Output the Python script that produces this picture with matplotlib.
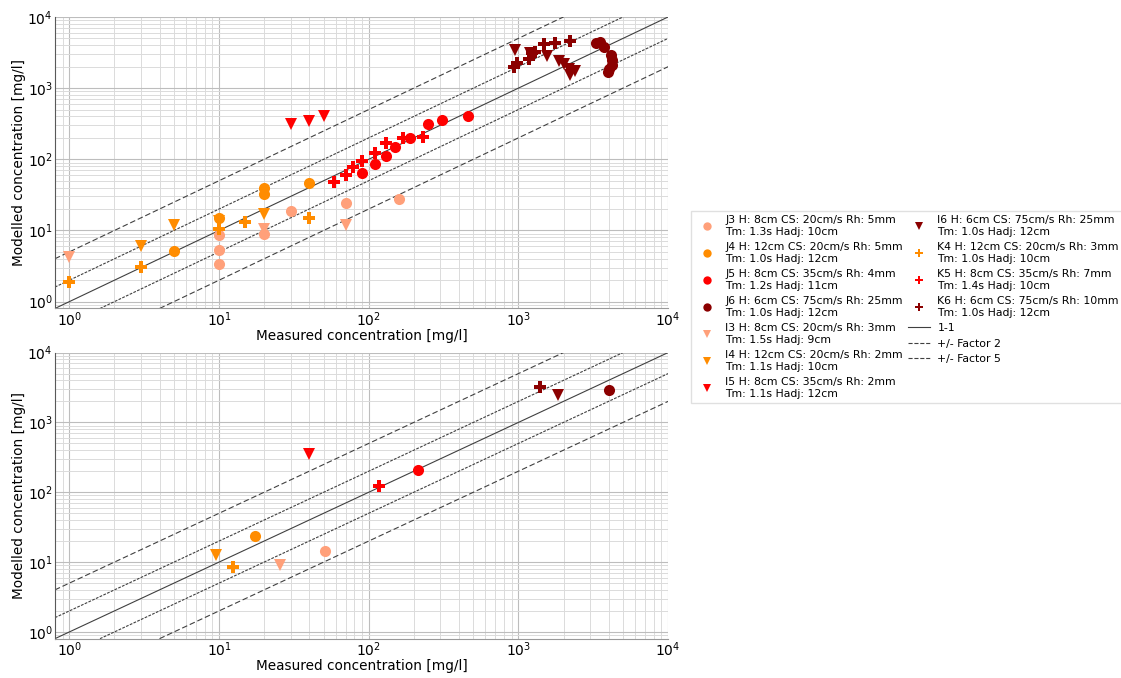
import matplotlib
matplotlib.use("Agg")
import matplotlib.pyplot as plt
from matplotlib.lines import Line2D

# ---------------- data ----------------
series_names = ["J3", "J4", "J5", "J6", "I3", "I4", "I5", "I6", "K4", "K5", "K6"]
series_labels = [
    "J3 H: 8cm CS: 20cm/s Rh: 5mm\nTm: 1.3s Hadj: 10cm",
    "J4 H: 12cm CS: 20cm/s Rh: 5mm\nTm: 1.0s Hadj: 12cm",
    "J5 H: 8cm CS: 35cm/s Rh: 4mm\nTm: 1.2s Hadj: 11cm",
    "J6 H: 6cm CS: 75cm/s Rh: 25mm\nTm: 1.0s Hadj: 12cm",
    "I3 H: 8cm CS: 20cm/s Rh: 3mm\nTm: 1.5s Hadj: 9cm",
    "I4 H: 12cm CS: 20cm/s Rh: 2mm\nTm: 1.1s Hadj: 10cm",
    "I5 H: 8cm CS: 35cm/s Rh: 2mm\nTm: 1.1s Hadj: 12cm",
    "I6 H: 6cm CS: 75cm/s Rh: 25mm\nTm: 1.0s Hadj: 12cm",
    "K4 H: 12cm CS: 20cm/s Rh: 3mm\nTm: 1.0s Hadj: 10cm",
    "K5 H: 8cm CS: 35cm/s Rh: 7mm\nTm: 1.4s Hadj: 10cm",
    "K6 H: 6cm CS: 75cm/s Rh: 10mm\nTm: 1.0s Hadj: 12cm",
]

# top panel (measured, modelled)
top_J3_x = [10, 10, 10, 20, 30, 70, 160]
top_J3_y = [3.4, 5.3, 8.6, 8.8, 19, 24, 28]
top_J4_x = [5, 10, 20, 20, 40]
top_J4_y = [5.2, 15, 40, 32, 46]
top_J5_x = [90, 110, 130, 150, 190, 250, 310, 460]
top_J5_y = [64, 85, 110, 147, 197, 317, 360, 400]
top_J6_x = [3300, 3500, 3750, 4170, 4250, 4200, 4040, 3950]
top_J6_y = [4300, 4500, 3800, 2900, 2480, 2130, 1880, 1700]
top_I3_x = [1, 20, 70]
top_I3_y = [4.3, 10.5, 12]
top_I4_x = [3, 5, 10, 20]
top_I4_y = [6.1, 12, 13.5, 17]
top_I5_x = [30, 40, 50]
top_I5_y = [310, 350, 400]
top_I6_x = [950, 1200, 1560, 1880, 2030, 2170, 2200, 2400]
top_I6_y = [3400, 3150, 2850, 2400, 2200, 1880, 1550, 1750]
top_K4_x = [1, 3, 10, 15, 40]
top_K4_y = [1.9, 3.1, 10.5, 13, 15]
top_K5_x = [59, 70, 79, 90, 110, 130, 169, 229]
top_K5_y = [48, 60, 77, 96, 121, 172, 197, 203]
top_K6_x = [930, 985, 1170, 1240, 1300, 1490, 1760, 2220]
top_K6_y = [2000, 2270, 2600, 3150, 3250, 4200, 4300, 4600]

# bottom panel
bot_J3_x = [51]
bot_J3_y = [14.5]
bot_J4_x = [17.5]
bot_J4_y = [24]
bot_J5_x = [212]
bot_J5_y = [210]
bot_J6_x = [4000]
bot_J6_y = [2950]
bot_I3_x = [25.5]
bot_I3_y = [9]
bot_I4_x = [9.5]
bot_I4_y = [12.5]
bot_I5_x = [40]
bot_I5_y = [350]
bot_I6_x = [1850]
bot_I6_y = [2450]
bot_K4_x = [12.4]
bot_K4_y = [8.4]
bot_K5_x = [117]
bot_K5_y = [121]
bot_K6_x = [1400]
bot_K6_y = [3200]

factor_labels = ["1-1", "+/- Factor 2", "+/- Factor 5"]
factors = [1, 2, 5]

top_data = {
    "J3": (top_J3_x, top_J3_y), "J4": (top_J4_x, top_J4_y), "J5": (top_J5_x, top_J5_y),
    "J6": (top_J6_x, top_J6_y), "I3": (top_I3_x, top_I3_y), "I4": (top_I4_x, top_I4_y),
    "I5": (top_I5_x, top_I5_y), "I6": (top_I6_x, top_I6_y), "K4": (top_K4_x, top_K4_y),
    "K5": (top_K5_x, top_K5_y), "K6": (top_K6_x, top_K6_y),
}
bot_data = {
    "J3": (bot_J3_x, bot_J3_y), "J4": (bot_J4_x, bot_J4_y), "J5": (bot_J5_x, bot_J5_y),
    "J6": (bot_J6_x, bot_J6_y), "I3": (bot_I3_x, bot_I3_y), "I4": (bot_I4_x, bot_I4_y),
    "I5": (bot_I5_x, bot_I5_y), "I6": (bot_I6_x, bot_I6_y), "K4": (bot_K4_x, bot_K4_y),
    "K5": (bot_K5_x, bot_K5_y), "K6": (bot_K6_x, bot_K6_y),
}

# ---------------- style ----------------
colors = {"3": "#FFA07A", "4": "#FF8C00", "5": "#FF0000", "6": "#8B0000"}
markers = {"J": "o", "I": "v", "K": "P"}
factor_styles = ["-", (0, (2.5, 1.2)), (0, (5, 2.5))]

plt.rcParams["font.family"] = ["DejaVu Sans"]

fig = plt.figure(figsize=(11.21, 6.78), dpi=100)
ax_top = fig.add_axes([0.049, 0.545, 0.547, 0.430])
ax_bot = fig.add_axes([0.049, 0.058, 0.547, 0.422])


def draw(ax, data):
    handles = []
    for name, label in zip(series_names, series_labels):
        x, y = data[name]
        h, = ax.plot(x, y, linestyle="none", marker=markers[name[0]],
                     color=colors[name[1]], markersize=8, markeredgewidth=0,
                     label=label, zorder=3)
        handles.append(h)
    for f, lab, ls in zip(factors, factor_labels, factor_styles):
        if f == 1:
            h = ax.axline((1, 1), (10, 10), color="0.25", lw=0.8, ls=ls, label=lab, zorder=2)
            handles.append(h)
        else:
            h = ax.axline((1, f), (10, 10 * f), color="0.25", lw=0.8, ls=ls, label=lab, zorder=2)
            ax.axline((1, 1 / f), (10, 10 / f), color="0.25", lw=0.8, ls=ls, zorder=2)
            handles.append(h)
    ax.set_xscale("log")
    ax.set_yscale("log")
    ax.set_xlim(0.8, 1e4)
    ax.set_ylim(0.8, 1e4)
    ax.grid(True, which="major", color="0.74", lw=0.8)
    ax.grid(True, which="minor", color="0.86", lw=0.7)
    ax.tick_params(which="both", length=0, labelsize=10, pad=1.5)
    for s in ["top", "right"]:
        ax.spines[s].set_visible(False)
    ax.spines["left"].set_color("0.35")
    ax.spines["bottom"].set_color("0.6")
    ax.set_xlabel("Measured concentration [mg/l]", fontsize=9.8, labelpad=0)
    ax.set_ylabel("Modelled concentration [mg/l]", fontsize=9.8, labelpad=1)
    ax.set_axisbelow(True)
    return handles


handles = draw(ax_top, top_data)
draw(ax_bot, bot_data)

leg_handles = []
for h in handles:
    if isinstance(h, Line2D) and h.get_marker() not in (None, "None", ""):
        leg_handles.append(Line2D([], [], linestyle="none", marker=h.get_marker(),
                                  color=h.get_color(), markersize=6, markeredgewidth=0,
                                  label=h.get_label()))
    else:
        leg_handles.append(Line2D([], [], color="0.25", lw=0.8, ls=h.get_linestyle(),
                                  label=h.get_label()))

fig.legend(handles=leg_handles, loc="upper left", bbox_to_anchor=(0.612, 0.697),
           ncol=2, fontsize=7.8, frameon=True, fancybox=False, edgecolor="0.85",
           handlelength=2.0, handletextpad=0.7, columnspacing=0.5,
           labelspacing=0.5, borderpad=0.4)

fig.savefig("out.png", dpi=100)
